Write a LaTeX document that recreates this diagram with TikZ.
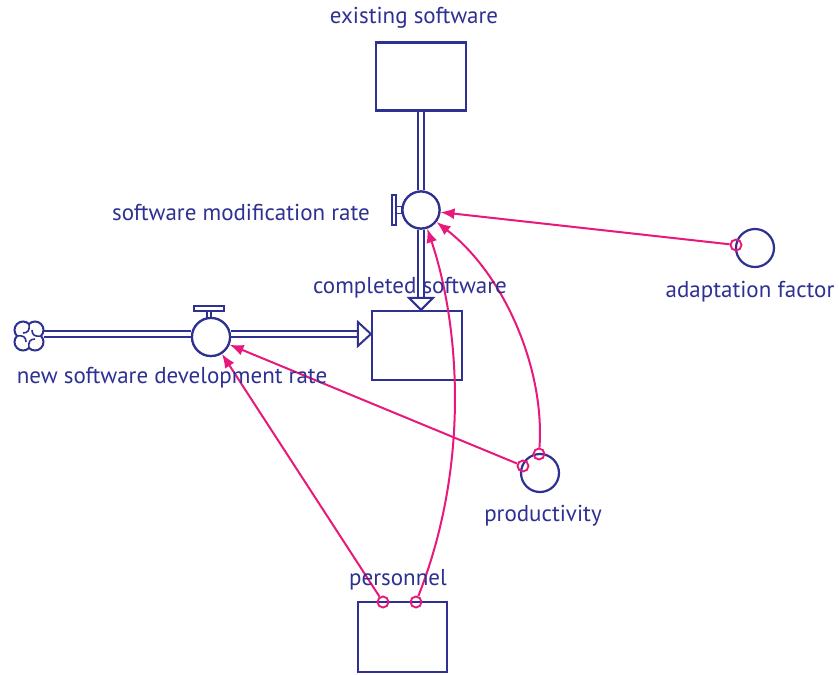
\documentclass[tikz,border=0pt]{standalone}
\usepackage{fontspec}
\setmainfont{PT Sans}
\usetikzlibrary{arrows.meta,calc}
\definecolor{sfblue}{RGB}{46,49,146}
\definecolor{sfpink}{RGB}{232,25,122}

\begin{document}
\begin{tikzpicture}[x=1pt,y=-1pt,
  stock/.style={draw=sfblue,line width=2.2pt,minimum width=90pt,minimum height=68pt,inner sep=0pt},
  valve/.style={circle,draw=sfblue,line width=2.2pt,minimum size=37pt,inner sep=0pt,fill=white},
  aux/.style={circle,draw=sfblue,line width=2.2pt,minimum size=38pt,inner sep=0pt},
  lbl/.style={text=sfblue,font=\fontsize{23}{27}\selectfont,inner sep=0pt},
  pipe/.style={draw=sfblue,line width=2pt,double=white,double distance=3.2pt},
  head/.style={draw=sfblue,line width=2pt,fill=white,line join=miter},
  handle/.style={draw=sfblue,line width=1.7pt,fill=white},
  link/.style={draw=sfpink,line width=2pt,-{Latex[length=14pt,width=11pt]}},
  tap/.style={circle,draw=sfpink,line width=1.9pt,minimum size=11pt,inner sep=0pt},
  puff/.style={draw=sfblue,line width=2pt}
]
\useasboundingbox (0,0) rectangle (839,675);
\fill[white] (0,0) rectangle (839,675);

% stocks
\node[stock] (exist) at (421,76.5) {};
\node[stock,minimum height=69pt] (done) at (417,345.5) {};
\node[stock,minimum width=89pt,minimum height=70pt] (staff) at (402.5,637) {};

% source cloud: four lobes with a pinwheel of curls inside
\node[circle,minimum size=29pt,inner sep=0pt] (src) at (29,336) {};
\begin{scope}[shift={(src.center)}]
  \draw[puff] (0,-12) arc[start angle=-135,end angle=45,radius=8.49]
                      arc[start angle=-45,end angle=135,radius=8.49]
                      arc[start angle=45,end angle=225,radius=8.49]
                      arc[start angle=135,end angle=315,radius=8.49] -- cycle;
  \foreach \r in {0,90,180,270}
    \draw[puff,line width=1.6pt,rotate=\r] (0,-12) .. controls (1,-6) and (-1,-3) .. (-6,-3);
\end{scope}

% flow valves
\node[valve] (modv) at (421,210) {};
\node[valve,minimum size=38pt] (devv) at (211,337) {};

% auxiliaries
\node[aux] (adapt) at (755,248) {};
\node[aux] (prod) at (540,473) {};

% pipes
\draw[pipe] (exist.south) -- (modv.north);
\coordinate (donetop) at (modv.south |- done.north);
\draw[pipe] (modv.south) -- ($(donetop)+(0,-12)$);
\draw[head] ($(donetop)+(-12,-12)$) -- (donetop) -- ($(donetop)+(12,-12)$) -- cycle;

\coordinate (pipeleft) at (src.east |- 0,334);
\draw[pipe] (pipeleft) -- (pipeleft -| devv.west);
\coordinate (doneleft) at (done.west |- 0,334);
\draw[pipe] (doneleft -| devv.east) -- ($(doneleft)+(-13,0)$);
\draw[head] ($(doneleft)+(-13,-12)$) -- (doneleft) -- ($(doneleft)+(-13,12)$) -- cycle;

% valve handles
\draw[handle] (396,206.5) rectangle (modv.west |- 0,213.5);
\draw[handle] (392,195) rectangle (396,225);
\draw[handle] (207,311) rectangle (211,320);
\draw[handle] (194,306) rectangle (224,311);
\node[valve] at (modv) {};
\node[valve,minimum size=38pt] at (devv) {};

% connector taps
\node[tap] (tadapt) at (736,245) {};
\node[tap] (tprodA) at (523,466) {};
\node[tap] (tprodB) at (539,454) {};
\node[tap] (tstaffA) at (383,602) {};
\node[tap] (tstaffB) at (416,602) {};

% information links
\draw[link] (tadapt) -- (modv);
\draw[link] (tprodA) -- (devv);
\draw[link] (tstaffA) -- (devv);
\draw[link] (tprodB) .. controls (545,370) and (505,275) .. (modv);
\draw[link] (tstaffB) .. controls (472,460) and (458,320) .. (modv);

% labels
\node[lbl] at (414,18) {existing software};
\node[lbl,anchor=east] at (370,212) {software modification rate};
\node[lbl] at (410,288) {completed software};
\node[lbl] at (172,378) {new software development rate};
\node[lbl] at (750,292) {adaptation factor};
\node[lbl] at (543,516) {productivity};
\node[lbl] at (398,580) {personnel};
\end{tikzpicture}
\end{document}
